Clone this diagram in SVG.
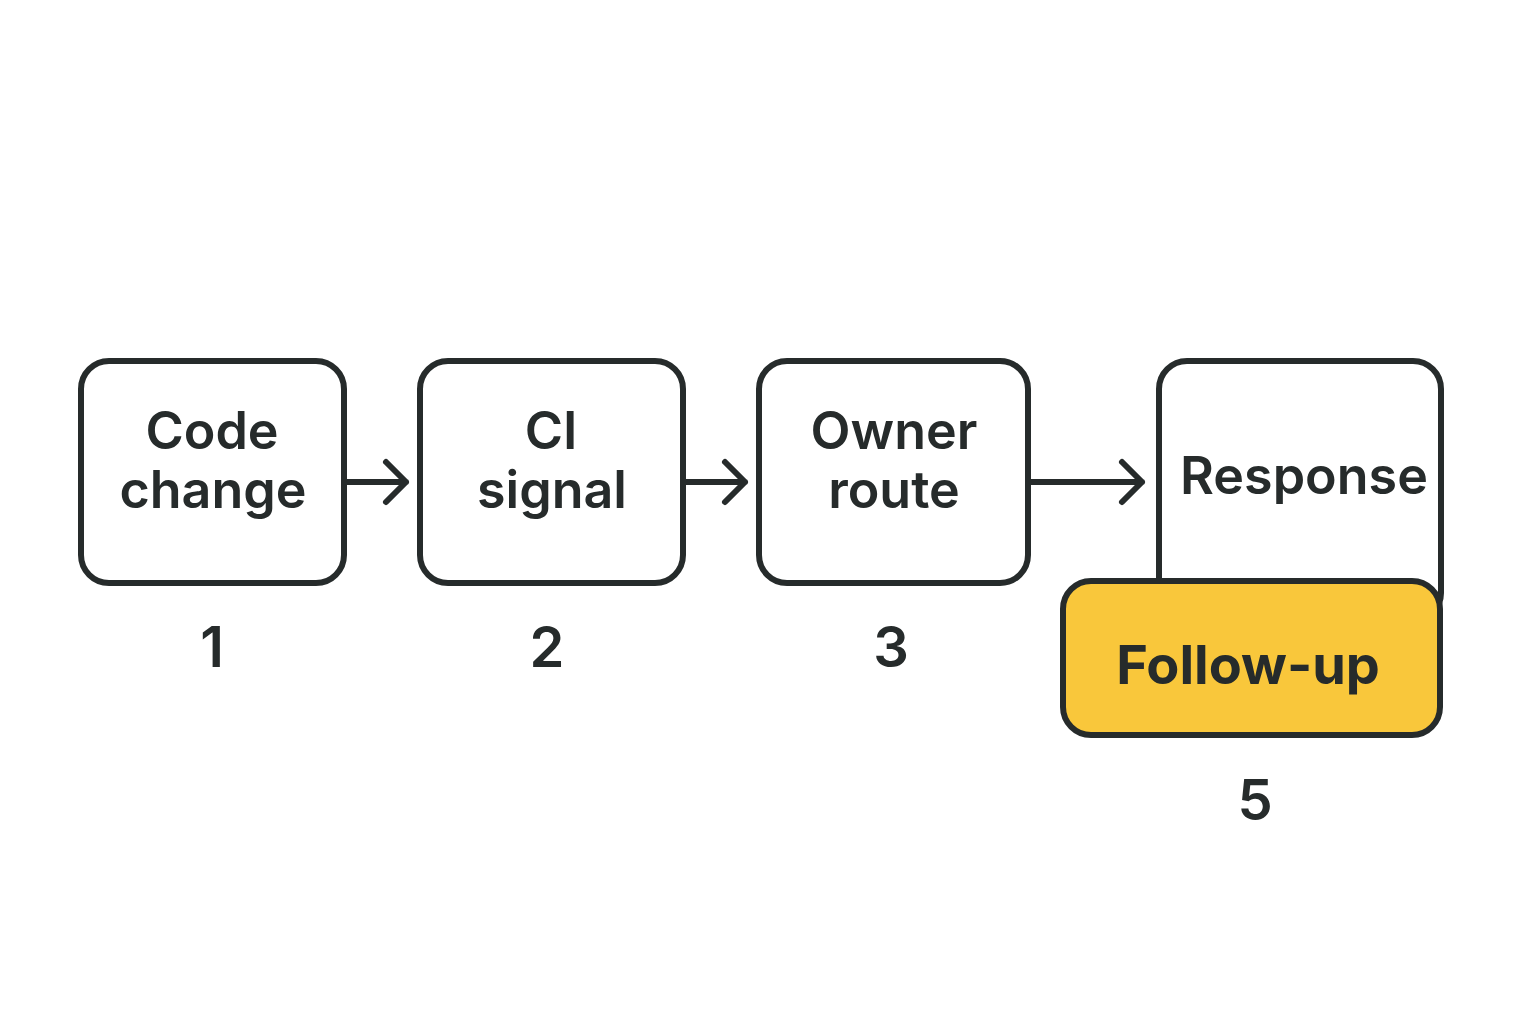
<svg xmlns="http://www.w3.org/2000/svg" width="1536" height="1024" viewBox="0 0 1536 1024">
<style>
.box{fill:#ffffff;stroke:#262b2b;stroke-width:6}
.hl{fill:#f9c73b;stroke:#262b2b;stroke-width:6}
.lbl{font-family:Inter,"Noto Sans",sans-serif;font-weight:600;font-size:52px;fill:#262b2b;text-anchor:middle}
.num{font-family:Inter,"Noto Sans",sans-serif;font-weight:600;font-size:56px;fill:#262b2b;text-anchor:middle}
.edge{fill:none;stroke:#262b2b;stroke-width:6;stroke-linecap:round;stroke-linejoin:round}
</style>
<rect width="1536" height="1024" fill="#ffffff"/>
<g id="connectors">
<path class="edge" d="M345 482 H406 M386 462 L406 482 L386 502"/>
<path class="edge" d="M684 482 H745 M725 462 L745 482 L725 502"/>
<path class="edge" d="M1029 482 H1142 M1122 462 L1142 482 L1122 502"/>
</g>
<g id="n1">
<rect class="box" x="81" y="361" width="263" height="222" rx="28"/>
<text class="lbl" x="212" y="449">Code</text>
<text class="lbl" x="213" y="508">change</text>
<text class="num" x="212" y="667">1</text>
</g>
<g id="n2">
<rect class="box" x="420" y="361" width="263" height="222" rx="28"/>
<text class="lbl" x="551" y="449">CI</text>
<text class="lbl" x="552" y="508">signal</text>
<text class="num" x="547" y="667">2</text>
</g>
<g id="n3">
<rect class="box" x="759" y="361" width="269" height="222" rx="28"/>
<text class="lbl" x="894" y="449">Owner</text>
<text class="lbl" x="894" y="508">route</text>
<text class="num" x="891" y="667">3</text>
</g>
<g id="n4">
<rect class="box" x="1159" y="361" width="282" height="260" rx="28"/>
<text class="lbl" x="1304" y="494">Response</text>
</g>
<g id="n5">
<rect class="hl" x="1063" y="581" width="377" height="154" rx="28"/>
<text class="lbl" x="1248" y="684" style="font-weight:700;font-size:54px">Follow-up</text>
<text class="num" x="1255" y="820">5</text>
</g>
</svg>
